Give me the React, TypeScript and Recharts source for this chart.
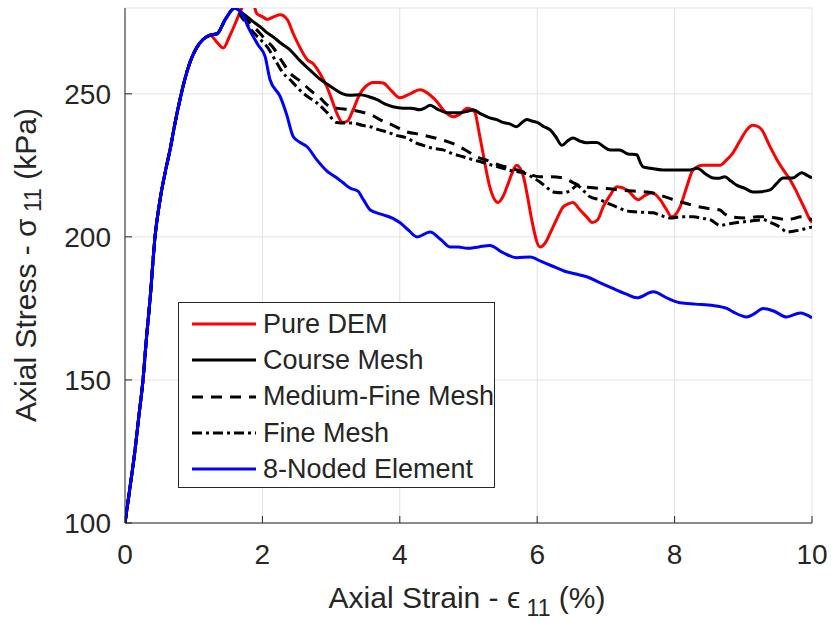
import React from "react";
import { LineChart, Line, XAxis, YAxis, CartesianGrid, Legend } from "recharts";

const FONT = '"Liberation Sans", Arial, Helvetica, sans-serif';
const INK = "#262626";

const xTicks = [0, 2, 4, 6, 8, 10];
const yTicks = [100, 150, 200, 250];

// loading branch shared by every run up to the peak
const riseX = [0, 0.07, 0.146, 0.2, 0.262, 0.31, 0.364, 0.437, 0.51, 0.58, 0.655, 0.73, 0.8, 0.87, 0.946, 1.04, 1.135, 1.24, 1.34, 1.46, 1.6];
const riseY = [100, 112, 125.5, 137, 150, 164, 178, 200, 213, 222, 230.4, 240, 248, 255, 261, 266, 269, 270.5, 271, 276, 280];

const demX = [0, 0.07, 0.146, 0.2, 0.262, 0.31, 0.364, 0.437, 0.51, 0.58, 0.655, 0.73, 0.8, 0.87, 0.946, 1.04, 1.135, 1.24, 1.34, 1.43, 1.52, 1.63, 1.7, 1.78, 1.86, 1.92, 2.0, 2.07, 2.17, 2.26, 2.36, 2.45, 2.55, 2.65, 2.74, 2.84, 2.94, 3.01, 3.08, 3.17, 3.24, 3.32, 3.42, 3.5, 3.61, 3.7, 3.76, 3.88, 4.0, 4.15, 4.29, 4.44, 4.55, 4.63, 4.78, 4.88, 4.98, 5.09, 5.15, 5.21, 5.31, 5.43, 5.5, 5.56, 5.63, 5.7, 5.8, 5.86, 5.92, 6.04, 6.12, 6.19, 6.28, 6.38, 6.45, 6.52, 6.62, 6.72, 6.8, 6.88, 6.96, 7.06, 7.16, 7.31, 7.47, 7.57, 7.67, 7.79, 7.87, 7.96, 8.08, 8.17, 8.27, 8.41, 8.55, 8.66, 8.76, 8.85, 8.95, 9.05, 9.14, 9.22, 9.27, 9.38, 9.49, 9.58, 9.68, 9.76, 9.83, 9.9, 9.97, 10];
const demY = [100, 112, 125.5, 137, 150, 164, 178, 200, 213, 222, 230.4, 240, 248, 255, 261, 266, 269, 270.5, 268, 266, 270, 276, 280, 283, 282, 278, 277, 276, 277, 277.6, 276, 271, 266, 262, 260.5, 257, 252.4, 248, 243.4, 240, 240.5, 244.4, 250, 252.5, 254, 254, 253.8, 251, 248.6, 250, 251.4, 249.6, 247, 244.4, 242, 243, 245, 243.7, 237, 229.4, 217.5, 212, 214, 217.5, 222, 225, 221, 214, 206, 196.5, 198, 201.4, 206, 210.5, 211.5, 212, 209.5, 207, 205, 206, 210.5, 214.5, 217.5, 216.4, 213, 214.5, 215.4, 213, 210, 207, 210.5, 217, 223.4, 225, 225, 225, 227, 229.4, 233.5, 237.4, 239, 238.5, 237.4, 232, 227, 223.5, 220, 216.5, 213, 209.5, 206, 205];

const courseX = [1.72, 1.85, 1.97, 2.06, 2.15, 2.28, 2.4, 2.55, 2.69, 2.82, 2.94, 3.06, 3.17, 3.28, 3.42, 3.55, 3.67, 3.78, 3.9, 4.05, 4.17, 4.29, 4.36, 4.44, 4.56, 4.69, 4.78, 4.88, 5.0, 5.07, 5.18, 5.31, 5.41, 5.5, 5.6, 5.7, 5.78, 5.85, 5.92, 6.0, 6.1, 6.19, 6.27, 6.36, 6.44, 6.52, 6.62, 6.72, 6.87, 6.97, 7.06, 7.2, 7.32, 7.45, 7.5, 7.54, 7.65, 7.83, 8.0, 8.22, 8.33, 8.45, 8.56, 8.65, 8.73, 8.82, 8.91, 9.02, 9.14, 9.26, 9.39, 9.48, 9.58, 9.72, 9.85, 9.93, 10];
const courseY = [278, 275.5, 273.4, 271.5, 270, 267.5, 265.4, 261.5, 258.4, 255.5, 253.4, 251.5, 250, 249.5, 249.7, 249, 248, 246.5, 245.5, 245, 245, 244.4, 245, 246, 244.5, 243.4, 243.4, 243.4, 244, 244.4, 243, 241.6, 241, 240, 239.5, 238.5, 240, 241, 240.5, 240, 238.5, 237.4, 235, 232, 233.5, 234.6, 233.5, 232.9, 233, 231.5, 230.4, 230.4, 229, 228.7, 226, 224.5, 224, 223.4, 223.4, 223.4, 224, 222, 220.6, 220.5, 221, 219.5, 218, 217, 215.7, 215.8, 216.4, 218.5, 220.6, 220.6, 222.4, 221.5, 220.6];

const mediumX = [1.72, 1.85, 1.97, 2.06, 2.15, 2.3, 2.4, 2.55, 2.69, 2.84, 2.98, 3.08, 3.28, 3.47, 3.6, 3.71, 3.9, 4.1, 4.25, 4.44, 4.6, 4.83, 4.98, 5.12, 5.3, 5.46, 5.62, 5.8, 6.04, 6.2, 6.38, 6.52, 6.67, 6.91, 7.05, 7.2, 7.4, 7.6, 7.8, 7.98, 8.12, 8.27, 8.47, 8.66, 8.73, 8.81, 9.05, 9.2, 9.34, 9.5, 9.63, 9.75, 9.83, 10];
const mediumY = [277, 274, 271, 268.5, 266.4, 260.8, 257.3, 254.5, 251.4, 248.5, 245.5, 245, 244.4, 243.5, 242.5, 241, 239, 236.7, 236, 235, 234, 232, 230, 228, 226.5, 225, 224, 222.7, 221, 221, 220.6, 219, 217.5, 217, 216.8, 216.4, 216, 215.7, 214.5, 213, 212, 211, 210, 209.4, 208, 207, 206.6, 207, 207, 206.5, 206, 206.5, 207, 206];

const fineX = [1.72, 1.85, 1.97, 2.07, 2.21, 2.3, 2.4, 2.5, 2.59, 2.69, 2.79, 2.94, 3.08, 3.2, 3.32, 3.45, 3.57, 3.69, 3.81, 3.95, 4.1, 4.22, 4.34, 4.48, 4.63, 4.78, 4.92, 5.06, 5.21, 5.35, 5.5, 5.65, 5.8, 5.92, 6.04, 6.13, 6.23, 6.38, 6.5, 6.58, 6.68, 6.77, 6.91, 7.05, 7.2, 7.32, 7.45, 7.69, 7.8, 7.93, 8.1, 8.27, 8.4, 8.52, 8.66, 8.78, 8.91, 9.1, 9.29, 9.4, 9.49, 9.56, 9.63, 9.73, 9.83, 9.92, 10];
const fineY = [276, 272, 269, 266.4, 260.8, 257.3, 255, 252.4, 250.3, 248.5, 246.9, 243.5, 240, 239.8, 239.8, 239, 238.5, 237.5, 236.7, 235.5, 234.6, 233, 232, 231, 230.4, 229, 228, 227, 226, 225, 224, 223, 222.4, 221, 219.2, 217.5, 215.7, 215.4, 216.5, 218, 216, 214, 213, 211.5, 210, 209, 208.7, 208.4, 207.5, 206.6, 207, 207, 206.5, 206, 204, 204.5, 205, 205.5, 206, 205, 204, 203, 201.7, 202, 202.4, 203, 203.5];

const noded8X = [1.7, 1.82, 1.94, 2.04, 2.11, 2.26, 2.35, 2.45, 2.55, 2.65, 2.79, 2.94, 3.06, 3.17, 3.28, 3.39, 3.47, 3.57, 3.76, 3.9, 4.0, 4.12, 4.25, 4.44, 4.6, 4.73, 4.85, 4.98, 5.15, 5.31, 5.5, 5.7, 5.9, 6.05, 6.2, 6.4, 6.62, 6.75, 6.91, 7.1, 7.3, 7.45, 7.69, 7.9, 8.08, 8.3, 8.56, 8.76, 8.85, 9.05, 9.15, 9.29, 9.45, 9.63, 9.83, 10];
const noded8Y = [278, 272, 267, 263, 255, 249, 243, 235, 233, 231.5, 227, 223, 221, 219, 217, 216, 213, 209.4, 207.7, 206.5, 205, 202.5, 200, 201.7, 199, 196.5, 196.5, 196, 196.5, 197, 194.5, 192.7, 193, 191.5, 190, 188, 186.7, 185.8, 184, 182, 180, 178.7, 180.8, 178.5, 177, 176.5, 176, 175, 173.8, 172, 173, 175, 174, 172, 173.4, 171.7];

const toPoints = (xs: number[], ys: number[]) => xs.map((x, i) => ({ x, y: ys[i] }));

const series = [
  { name: "Pure DEM", color: "#ff0000", dash: undefined, data: toPoints(demX, demY) },
  { name: "Course Mesh", color: "#000000", dash: undefined, data: toPoints([...riseX, ...courseX], [...riseY, ...courseY]) },
  { name: "Medium-Fine Mesh", color: "#000000", dash: "11 8", data: toPoints([...riseX, ...mediumX], [...riseY, ...mediumY]) },
  { name: "Fine Mesh", color: "#000000", dash: "10 4 3 4", data: toPoints([...riseX, ...fineX], [...riseY, ...fineY]) },
  { name: "8-Noded Element", color: "#0000ff", dash: undefined, data: toPoints([...riseX, ...noded8X], [...riseY, ...noded8Y]) },
];

function LegendBox() {
  return (
    <div
      style={{
        border: `1px solid ${INK}`,
        background: "#fff",
        width: 317,
        height: 186,
        boxSizing: "border-box",
        paddingTop: 3,
        fontFamily: FONT,
      }}
    >
      {series.map((s) => (
        <div key={s.name} style={{ height: 36.3, display: "flex", alignItems: "center" }}>
          <svg width={84} height={20} style={{ display: "block" }}>
            <line x1={13} x2={77} y1={10} y2={10} stroke={s.color} strokeWidth={3} strokeDasharray={s.dash} />
          </svg>
          <span style={{ fontSize: 27, color: INK, whiteSpace: "nowrap" }}>{s.name}</span>
        </div>
      ))}
    </div>
  );
}

export default function App() {
  return (
    <div style={{ position: "absolute", left: 0, top: 0, background: "#fff" }}>
      <LineChart width={832} height={623} margin={{ top: 8, right: 20, bottom: 0, left: 0 }}>
        <CartesianGrid stroke="#e2e2e2" strokeWidth={1} />
        <XAxis
          dataKey="x"
          type="number"
          domain={[0, 10]}
          ticks={xTicks}
          allowDataOverflow
          height={100}
          stroke={INK}
          tickSize={-7}
          tickMargin={28}
          tick={{ fontSize: 28, fill: INK, fontFamily: FONT }}
          label={{
            content: () => (
              <text x={467} y={608} textAnchor="middle" fontSize={30} fill={INK} fontFamily={FONT}>
                Axial Strain -{" "}
                <tspan>ϵ</tspan>
                <tspan dy={8} fontSize={23}> 11</tspan>
                <tspan dy={-8}> (%)</tspan>
              </text>
            ),
          }}
        />
        <XAxis xAxisId="top" orientation="top" type="number" domain={[0, 10]} ticks={xTicks} height={0} stroke={INK} tickSize={-7} tick={false} />
        <YAxis
          type="number"
          domain={[100, 280]}
          ticks={yTicks}
          allowDataOverflow
          width={125}
          stroke={INK}
          tickSize={-7}
          tickMargin={21}
          tick={{ fontSize: 28, fill: INK, fontFamily: FONT }}
          label={{
            content: () => (
              <text
                x={25}
                y={265}
                transform="rotate(-90 25 265)"
                textAnchor="middle"
                dominantBaseline="central"
                fontSize={30}
                fill={INK}
                fontFamily={FONT}
              >
                Axial Stress -{" "}
                <tspan>σ</tspan>
                <tspan dy={8} fontSize={23}> 11</tspan>
                <tspan dy={-8}> (kPa)</tspan>
              </text>
            ),
          }}
        />
        <YAxis yAxisId="right" orientation="right" type="number" domain={[100, 280]} ticks={yTicks} width={0} stroke={INK} tickSize={-7} tick={false} />
        {series.map((s) => (
          <Line
            key={s.name}
            data={s.data}
            dataKey="y"
            name={s.name}
            type="monotone"
            stroke={s.color}
            strokeWidth={3}
            strokeDasharray={s.dash}
            dot={false}
            isAnimationActive={false}
          />
        ))}
        <Legend
          layout="vertical"
          align="center"
          verticalAlign="middle"
          wrapperStyle={{ left: 178, top: 302, width: 317, height: 186 }}
          content={() => <LegendBox />}
        />
      </LineChart>
    </div>
  );
}
